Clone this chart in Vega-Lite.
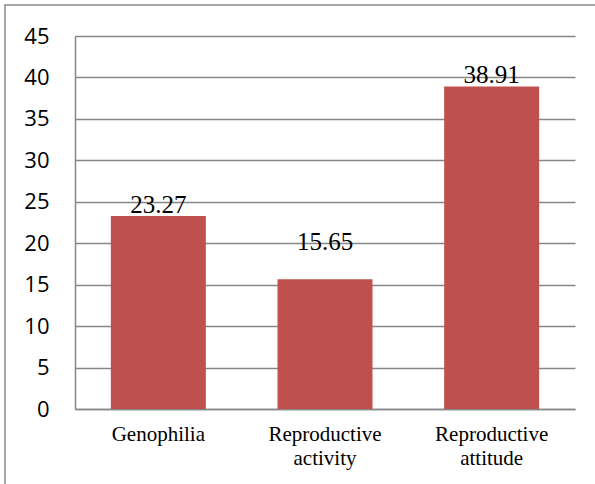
{
  "$schema": "https://vega.github.io/schema/vega-lite/v6.json",
  "autosize": "none",
  "width": 600,
  "height": 490,
  "padding": {"left": 5, "top": 5, "right": 0, "bottom": 0},
  "background": "white",
  "config": {
    "view": {"stroke": "#8a8a8a", "strokeWidth": 1.5},
    "axis": {
      "domainColor": "#868686",
      "domainWidth": 1.5,
      "gridColor": "#868686",
      "gridWidth": 1.3,
      "ticks": false,
      "title": null,
      "labelColor": "black"
    }
  },
  "data": {
    "values": [
      {"category": "Genophilia", "value": 23.27},
      {"category": "Reproductive activity", "value": 15.65},
      {"category": "Reproductive attitude", "value": 38.91}
    ]
  },
  "encoding": {
    "x": {
      "field": "category",
      "type": "nominal",
      "sort": null,
      "scale": {"range": [70, 570], "paddingInner": 0.43, "paddingOuter": 0.215},
      "axis": {
        "orient": "bottom",
        "offset": -86,
        "labelAngle": 0,
        "labelFont": "'Liberation Serif', 'Times New Roman', serif",
        "labelFontSize": 21,
        "labelPadding": 14,
        "labelLineHeight": 24,
        "labelExpr": "datum.label == 'Genophilia' ? datum.label : split(datum.label, ' ')",
        "grid": false
      }
    },
    "y": {
      "field": "value",
      "type": "quantitative",
      "scale": {"domain": [0, 45], "range": [404, 31], "nice": false, "zero": true},
      "axis": {
        "orient": "left",
        "offset": -70,
        "values": [0, 5, 10, 15, 20, 25, 30, 35, 40, 45],
        "labelFont": "Open Sans",
        "labelFontSize": 22,
        "labelPadding": 26,
        "grid": true
      }
    }
  },
  "layer": [
    {"mark": {"type": "bar", "color": "#C0504D"}},
    {
      "transform": [{"filter": "datum.category != 'Reproductive activity'"}],
      "mark": {"type": "text", "font": "'Liberation Serif', 'Times New Roman', serif", "fontSize": 25, "baseline": "alphabetic", "dy": -3, "color": "black"},
      "encoding": {"text": {"field": "value", "type": "quantitative", "format": ".2f"}}
    },
    {
      "transform": [{"filter": "datum.category == 'Reproductive activity'"}],
      "mark": {"type": "text", "font": "'Liberation Serif', 'Times New Roman', serif", "fontSize": 25, "baseline": "alphabetic", "dy": -29, "color": "black"},
      "encoding": {"text": {"field": "value", "type": "quantitative", "format": ".2f"}}
    }
  ]
}
